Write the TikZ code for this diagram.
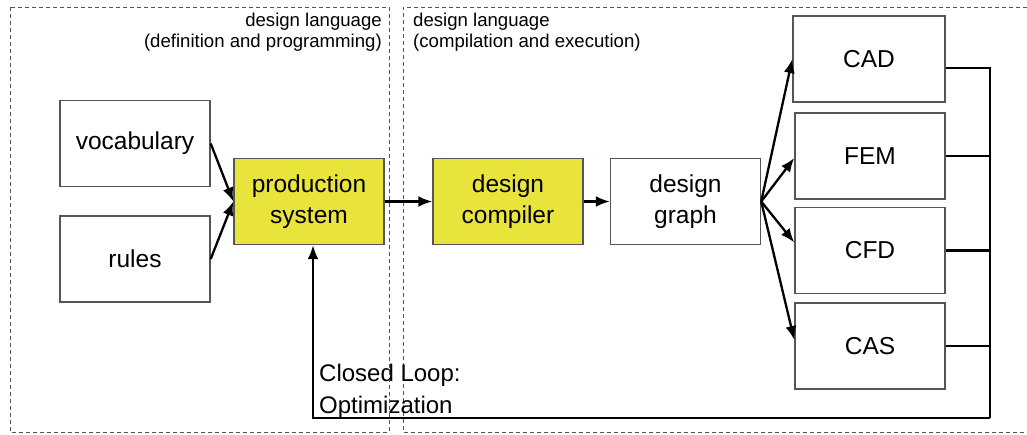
\documentclass[tikz,border=0pt]{standalone}
\usepackage{fontspec}
\setmainfont{Liberation Sans}
\usepackage{xcolor}
\usepackage{tikz}
\usetikzlibrary{calc,arrows.meta}
\definecolor{boxline}{HTML}{555555}
\definecolor{dash}{HTML}{555555}
\definecolor{hilite}{HTML}{E9E43C}
\tikzset{
  blk/.style={draw=boxline, line width=1.4pt, minimum width=150pt, minimum height=86pt,
    inner sep=0pt, align=center, font=\fontsize{24.5}{31}\selectfont},
  hot/.style={blk, fill=hilite},
  arr/.style={draw=black, line width=2.3pt, -{Latex[length=14pt,width=11pt]}},
  fb/.style={draw=black, line width=2.3pt, line join=miter},
  zone/.style={draw=dash, line width=1pt, dash pattern=on 4pt off 3pt},
  hdr/.style={font=\fontsize{18.6}{21}\selectfont, inner sep=0pt},
}

\begin{document}
\begin{tikzpicture}[x=1pt, y=-1pt]
  \useasboundingbox (0,0) rectangle (1027,434);
  % zones
  \draw[zone] (10,7) rectangle (389,432);
  \draw[zone] (1027,7) -- (403,7) -- (403,432) -- (1027,432);
  \node[hdr, anchor=north east, align=right] (hdrL) at (382,13) {design language\\(definition and programming)};
  \node[hdr, anchor=north west, align=left] (hdrR) at (413,13) {design language\\(compilation and execution)};
  % blocks
  \node[blk] (vocab) at (135,143.5) {vocabulary};
  \node[blk] (rules) at (135,259) {rules};
  \node[hot] (prodsys) at (309,201.5) {production\\system};
  \node[hot] (compiler) at (508,201.5) {design\\compiler};
  \node[blk] (graph) at (685.5,201.5) {design\\graph};
  \node[blk, minimum width=152pt] (cad) at (869,59) {CAD};
  \node[blk] (fem) at (870,156) {FEM};
  \node[blk] (cfd) at (870,250.5) {CFD};
  \node[blk] (cas) at (870,346) {CAS};
  % flow
  \draw[arr] (vocab.east) -- (prodsys.west);
  \draw[arr] (rules.east) -- (prodsys.west);
  \draw[arr] (prodsys) -- (compiler);
  \draw[arr] (compiler) -- (graph);
  \draw[arr] (graph.east) -- (cad.west);
  \draw[arr] (graph.east) -- ([yshift=-2pt]fem.west);
  \draw[arr] (graph.east) -- ([yshift=8pt]cfd.west);
  \draw[arr] (graph.east) -- ([yshift=6pt]cas.west);
  % feedback loop
  \coordinate (r1) at (990,68);
  \coordinate (r2) at (990,418);
  \coordinate (r3) at (313,418);
  \draw[fb] ([yshift=-9pt]cad.east) -- (r1) -- (r2);
  \foreach \b in {fem,cfd,cas}
    \draw[fb] (\b.east) -- (\b.east -| r1);
  \draw[arr] (r2) -- (r3) -- (r3 |- prodsys.south);
  \node[anchor=north west, align=left, inner sep=0pt, font=\fontsize{24}{32}\selectfont] (loop) at (319,364) {Closed Loop:\\Optimization};
\end{tikzpicture}
\end{document}
